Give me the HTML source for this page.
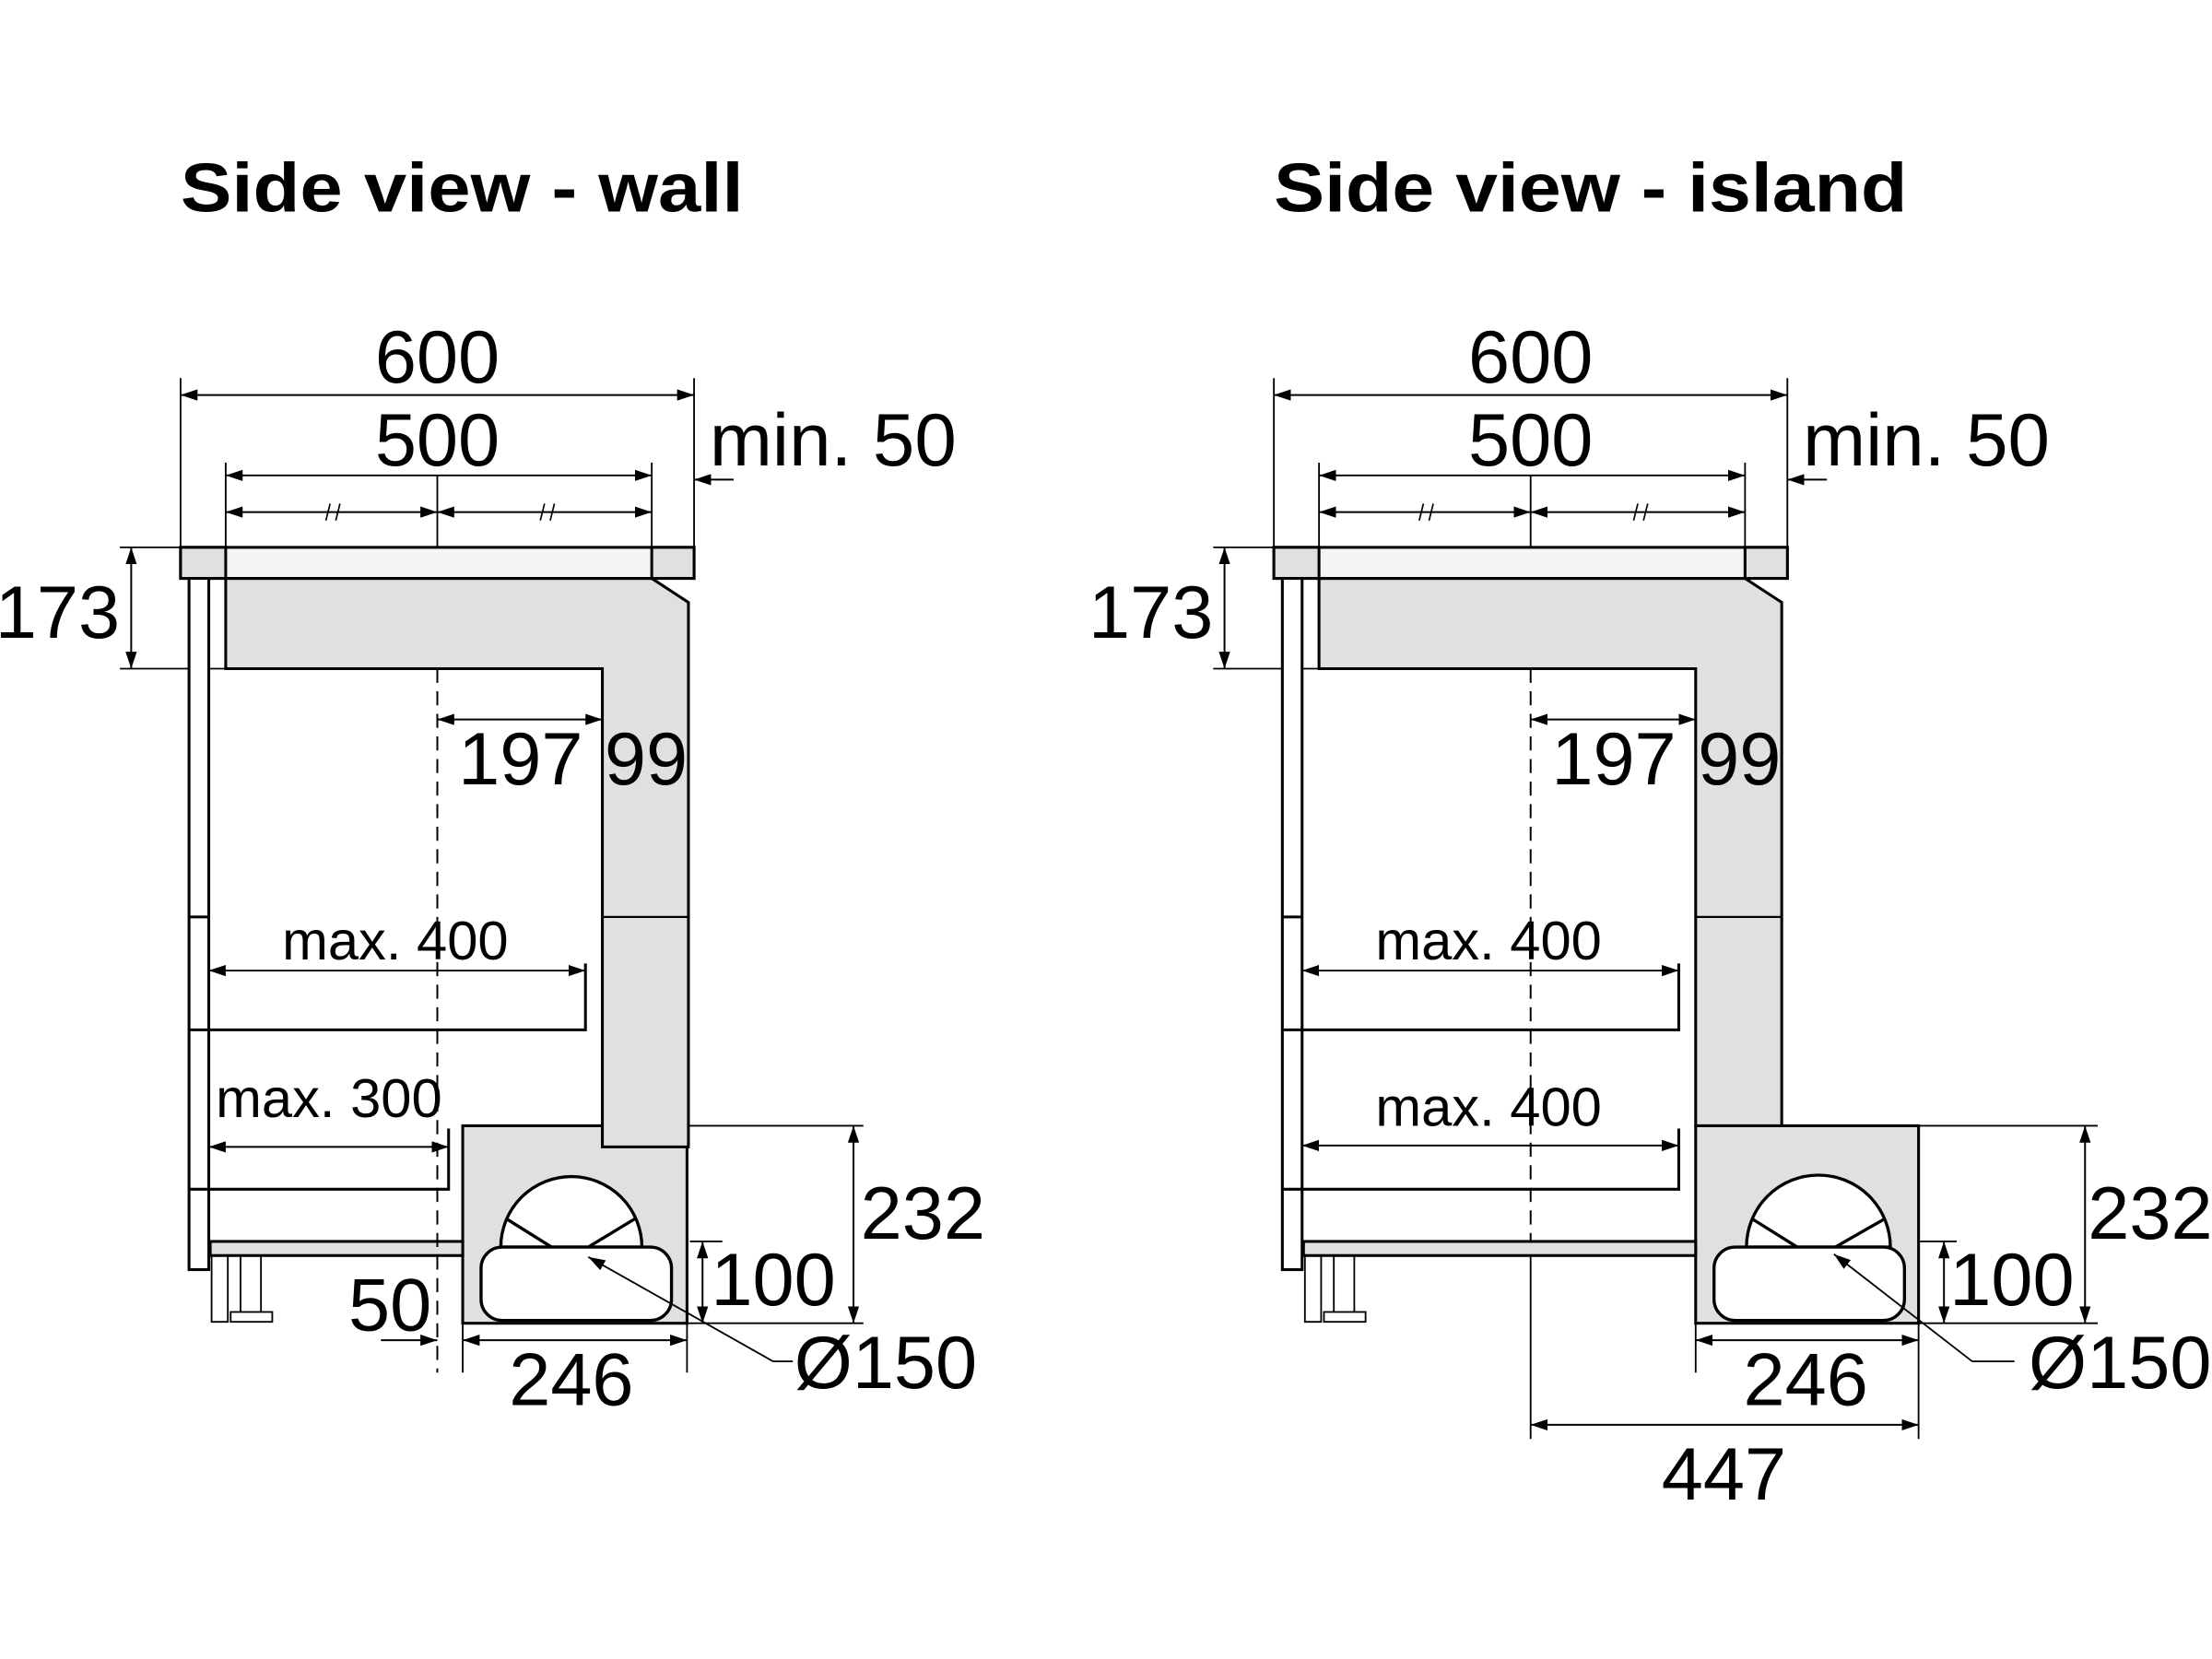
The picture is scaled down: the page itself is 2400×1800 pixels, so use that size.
<!DOCTYPE html>
<html><head><meta charset="utf-8"><style>
html,body{margin:0;padding:0;background:#fff;}
svg{display:block;}
text{font-family:"Liberation Sans",Arial,sans-serif;fill:#000;}
</style></head><body>
<svg width="2400" height="1800" viewBox="0 0 1568 1176" xmlns="http://www.w3.org/2000/svg">
<defs>
<marker id="a" viewBox="0 0 12 8" refX="12" refY="4" markerWidth="12" markerHeight="8" markerUnits="userSpaceOnUse" orient="auto-start-reverse"><path d="M0,0 L12,4 L0,8 Z" fill="#000"/></marker>
</defs>

<text x="128" y="150" font-size="49" font-weight="bold" textLength="399" lengthAdjust="spacingAndGlyphs">Side view - wall</text>
<text x="903" y="150" font-size="49" font-weight="bold" textLength="449" lengthAdjust="spacingAndGlyphs">Side view - island</text>

<!-- ================= WALL ================= -->
<g stroke="#000" fill="none">
 <g stroke-width="1.2">
  <line x1="128" y1="268" x2="128" y2="388"/>
  <line x1="492" y1="268" x2="492" y2="388"/>
  <line x1="160" y1="328" x2="160" y2="388"/>
  <line x1="462" y1="328" x2="462" y2="388"/>
  <line x1="310" y1="337" x2="310" y2="388"/>
  <line x1="85" y1="388" x2="128" y2="388"/>
  <line x1="85" y1="474" x2="160" y2="474"/>
  <line x1="488" y1="798" x2="612" y2="798"/>
  <line x1="488" y1="938" x2="612" y2="938"/>
  <line x1="489" y1="880" x2="512" y2="880"/>
  <line x1="328" y1="938" x2="328" y2="973"/>
  <line x1="487" y1="938" x2="487" y2="973"/>
 </g>
 <g stroke-width="1.3" marker-start="url(#a)" marker-end="url(#a)">
  <line x1="128" y1="280" x2="492" y2="280"/>
  <line x1="160" y1="337" x2="462" y2="337"/>
  <line x1="160" y1="363" x2="310" y2="363"/>
  <line x1="310" y1="363" x2="462" y2="363"/>
  <line x1="93" y1="388" x2="93" y2="474"/>
  <line x1="310" y1="510" x2="427" y2="510"/>
  <line x1="427" y1="510" x2="488" y2="510"/>
  <line x1="148" y1="688" x2="415" y2="688"/>
  <line x1="148" y1="813" x2="318" y2="813"/>
  <line x1="605" y1="798" x2="605" y2="938"/>
  <line x1="498" y1="880" x2="498" y2="938"/>
  <line x1="328" y1="950" x2="487" y2="950"/>
 </g>
 <g stroke-width="1.3" marker-end="url(#a)">
  <line x1="520" y1="340" x2="492" y2="340"/>
  <line x1="270" y1="950" x2="310" y2="950"/>
 </g>
 <g stroke-width="1.1">
  <line x1="231" y1="369" x2="234" y2="357"/><line x1="238" y1="369" x2="241" y2="357"/>
  <line x1="383" y1="369" x2="386" y2="357"/><line x1="390" y1="369" x2="393" y2="357"/>
 </g>
</g>
<rect x="328" y="798" width="159" height="140" fill="#e0e0e0" stroke="#000" stroke-width="2"/>
<path d="M160,410 L462,410 L488,427 L488,813 L427,813 L427,474 L160,474 Z" fill="#e0e0e0" stroke="#000" stroke-width="2"/>
<line x1="427" y1="650" x2="488" y2="650" stroke="#000" stroke-width="1.5"/>
<rect x="128" y="388" width="364" height="22" fill="#f4f4f4" stroke="#000" stroke-width="2"/>
<rect x="128" y="388" width="32" height="22" fill="#e0e0e0" stroke="#000" stroke-width="2"/>
<rect x="462" y="388" width="30" height="22" fill="#e0e0e0" stroke="#000" stroke-width="2"/>
<g stroke="#000" fill="none" stroke-width="2">
 <rect x="134" y="410" width="14" height="490" fill="#fff"/>
 <line x1="134" y1="650" x2="148" y2="650"/>
 <line x1="134" y1="730" x2="148" y2="730"/>
 <line x1="134" y1="843" x2="148" y2="843"/>
 <polyline points="148,730 415,730 415,683"/>
 <polyline points="148,843 318,843 318,800"/>
 <rect x="149" y="880" width="179" height="10" fill="#e0e0e0"/>
</g>
<g stroke="#000" fill="none" stroke-width="1.2">
 <polyline points="150,890 150,937 161.5,937 161.5,890"/>
 <line x1="170.5" y1="890" x2="170.5" y2="930"/>
 <line x1="185" y1="890" x2="185" y2="930"/>
 <rect x="163.5" y="930" width="29.5" height="7"/>
</g>
<line x1="310" y1="474" x2="310" y2="973" stroke="#000" stroke-width="1.3" stroke-dasharray="10,6"/>
<g stroke="#000" stroke-width="2.2" fill="#fff">
 <path d="M355,884 A50,50 0 0 1 455,884 Z"/>
 <line x1="359" y1="864" x2="391" y2="884"/>
 <line x1="450" y1="864" x2="417" y2="884"/>
 <rect x="341" y="884" width="135" height="52" rx="15" ry="15"/>
</g>
<polyline points="548,965 562,965" fill="none" stroke="#000" stroke-width="1.2"/>
<line x1="548" y1="965" x2="417" y2="891" stroke="#000" stroke-width="1.2" marker-end="url(#a)"/>

<g font-size="53">
 <text x="310" y="271" text-anchor="middle">600</text>
 <text x="310" y="330" text-anchor="middle">500</text>
 <text x="503" y="330" textLength="175" lengthAdjust="spacingAndGlyphs">min. 50</text>
 <text x="85" y="452" text-anchor="end">173</text>
 <text x="369" y="556" text-anchor="middle">197</text>
 <text x="458" y="556" text-anchor="middle">99</text>
 <text x="610" y="878">232</text>
 <text x="504" y="925">100</text>
 <text x="247" y="943">50</text>
 <text x="405" y="996" text-anchor="middle">246</text>
 <text x="563" y="984">Ø150</text>
</g>
<g font-size="39">
 <text x="200" y="680">max. 400</text>
 <text x="153" y="792">max. 300</text>
</g>

<!-- ================= ISLAND ================= -->
<g stroke="#000" fill="none">
 <g stroke-width="1.2">
  <line x1="903" y1="268" x2="903" y2="388"/>
  <line x1="1267" y1="268" x2="1267" y2="388"/>
  <line x1="935" y1="328" x2="935" y2="388"/>
  <line x1="1237" y1="328" x2="1237" y2="388"/>
  <line x1="1085" y1="337" x2="1085" y2="388"/>
  <line x1="860" y1="388" x2="903" y2="388"/>
  <line x1="860" y1="474" x2="935" y2="474"/>
  <line x1="1360" y1="798" x2="1487" y2="798"/>
  <line x1="1360" y1="938" x2="1487" y2="938"/>
  <line x1="1361" y1="880" x2="1387" y2="880"/>
  <line x1="1202" y1="938" x2="1202" y2="973"/>
  <line x1="1360" y1="938" x2="1360" y2="1020"/>
  <line x1="1085" y1="880" x2="1085" y2="1020"/>
 </g>
 <g stroke-width="1.3" marker-start="url(#a)" marker-end="url(#a)">
  <line x1="903" y1="280" x2="1267" y2="280"/>
  <line x1="935" y1="337" x2="1237" y2="337"/>
  <line x1="935" y1="363" x2="1085" y2="363"/>
  <line x1="1085" y1="363" x2="1237" y2="363"/>
  <line x1="868" y1="388" x2="868" y2="474"/>
  <line x1="1085" y1="510" x2="1202" y2="510"/>
  <line x1="1202" y1="510" x2="1263" y2="510"/>
  <line x1="923" y1="688" x2="1190" y2="688"/>
  <line x1="923" y1="812" x2="1190" y2="812"/>
  <line x1="1478" y1="798" x2="1478" y2="938"/>
  <line x1="1378" y1="880" x2="1378" y2="938"/>
  <line x1="1202" y1="950" x2="1360" y2="950"/>
  <line x1="1085" y1="1010" x2="1360" y2="1010"/>
 </g>
 <g stroke-width="1.3" marker-end="url(#a)">
  <line x1="1295" y1="340" x2="1267" y2="340"/>
 </g>
 <g stroke-width="1.1">
  <line x1="1006" y1="369" x2="1009" y2="357"/><line x1="1013" y1="369" x2="1016" y2="357"/>
  <line x1="1158" y1="369" x2="1161" y2="357"/><line x1="1165" y1="369" x2="1168" y2="357"/>
 </g>
</g>
<rect x="1202" y="798" width="158" height="140" fill="#e0e0e0" stroke="#000" stroke-width="2"/>
<path d="M935,410 L1237,410 L1263,427 L1263,798 L1202,798 L1202,474 L935,474 Z" fill="#e0e0e0" stroke="#000" stroke-width="2"/>
<line x1="1202" y1="650" x2="1263" y2="650" stroke="#000" stroke-width="1.5"/>
<rect x="903" y="388" width="364" height="22" fill="#f4f4f4" stroke="#000" stroke-width="2"/>
<rect x="903" y="388" width="32" height="22" fill="#e0e0e0" stroke="#000" stroke-width="2"/>
<rect x="1237" y="388" width="30" height="22" fill="#e0e0e0" stroke="#000" stroke-width="2"/>
<g stroke="#000" fill="none" stroke-width="2">
 <rect x="909" y="410" width="14" height="490" fill="#fff"/>
 <line x1="909" y1="650" x2="923" y2="650"/>
 <line x1="909" y1="730" x2="923" y2="730"/>
 <line x1="909" y1="843" x2="923" y2="843"/>
 <polyline points="923,730 1190,730 1190,683"/>
 <polyline points="923,843 1190,843 1190,800"/>
 <rect x="924" y="880" width="278" height="10" fill="#e0e0e0"/>
</g>
<g stroke="#000" fill="none" stroke-width="1.2">
 <polyline points="925,890 925,937 936.5,937 936.5,890"/>
 <line x1="945.5" y1="890" x2="945.5" y2="930"/>
 <line x1="960" y1="890" x2="960" y2="930"/>
 <rect x="938.5" y="930" width="29.5" height="7"/>
</g>
<line x1="1085" y1="474" x2="1085" y2="880" stroke="#000" stroke-width="1.3" stroke-dasharray="10,6"/>
<g stroke="#000" stroke-width="2.2" fill="#fff">
 <path d="M1238,884 A51,51 0 0 1 1340,884 Z"/>
 <line x1="1242" y1="864" x2="1274" y2="884"/>
 <line x1="1336" y1="864" x2="1301" y2="884"/>
 <rect x="1215" y="884" width="135" height="52" rx="15" ry="15"/>
</g>
<polyline points="1398,965 1428,965" fill="none" stroke="#000" stroke-width="1.2"/>
<line x1="1398" y1="965" x2="1300" y2="889" stroke="#000" stroke-width="1.2" marker-end="url(#a)"/>

<g font-size="53">
 <text x="1085" y="271" text-anchor="middle">600</text>
 <text x="1085" y="330" text-anchor="middle">500</text>
 <text x="1278" y="330" textLength="175" lengthAdjust="spacingAndGlyphs">min. 50</text>
 <text x="860" y="452" text-anchor="end">173</text>
 <text x="1144" y="556" text-anchor="middle">197</text>
 <text x="1233" y="556" text-anchor="middle">99</text>
 <text x="1480" y="878">232</text>
 <text x="1382" y="925">100</text>
 <text x="1280" y="996" text-anchor="middle">246</text>
 <text x="1438" y="984">Ø150</text>
 <text x="1222" y="1063" text-anchor="middle">447</text>
</g>
<g font-size="39">
 <text x="975" y="680">max. 400</text>
 <text x="975" y="798">max. 400</text>
</g>
</svg>
</body></html>
